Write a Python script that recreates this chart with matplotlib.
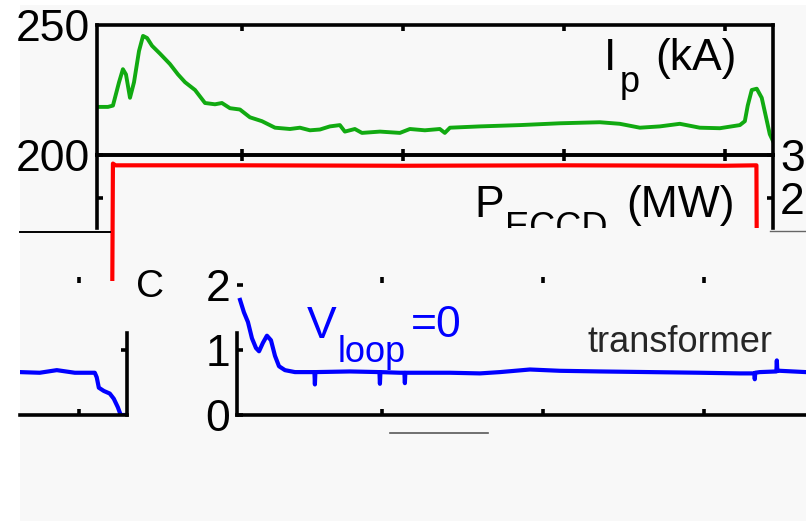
import matplotlib
matplotlib.use("Agg")
import matplotlib.pyplot as plt
from matplotlib.lines import Line2D
from matplotlib.patches import Rectangle

W, H = 806, 521
plt.rcParams["font.family"] = ["Liberation Sans", "DejaVu Sans"]

# plasma current Ip (kA)
ip_t = [0.1100, 0.1168, 0.1199, 0.1237, 0.1261, 0.1280, 0.1305, 0.1330, 0.1361, 0.1386,
        0.1411, 0.1442, 0.1491, 0.1553, 0.1603, 0.1647, 0.1709, 0.1771, 0.1833, 0.1876,
        0.1926, 0.1988, 0.2050, 0.2125, 0.2206, 0.2299, 0.2361, 0.2423, 0.2485, 0.2547,
        0.2609, 0.2640, 0.2702, 0.2746, 0.2858, 0.2982, 0.3044, 0.3137, 0.3230, 0.3261,
        0.3293, 0.3479, 0.3727, 0.3976, 0.4224, 0.4348, 0.4473, 0.4597, 0.4721, 0.4845,
        0.4970, 0.5094, 0.5125, 0.5143, 0.5168, 0.5199, 0.5230, 0.5255, 0.5280, 0.5299]
ip_ka = [218.5, 218.5, 219.0, 228.0, 233.0, 231.0, 222.0, 228.0, 240.0, 245.8,
         245.0, 242.0, 239.0, 235.0, 231.0, 228.0, 225.0, 220.0, 219.5, 220.0,
         218.0, 217.5, 214.5, 213.0, 210.5, 210.0, 210.5, 209.5, 209.8, 211.0,
         211.5, 209.0, 210.0, 208.5, 209.0, 208.5, 210.0, 209.5, 210.0, 208.5,
         210.5, 211.0, 211.5, 212.2, 212.6, 212.0, 210.5, 211.0, 212.0, 210.5,
         210.3, 211.5, 213.0, 219.0, 225.0, 225.5, 222.0, 215.0, 208.0, 205.5]

# ECCD power (MW)
eccd_t = [0.1100, 0.1195, 0.1199, 0.1215, 0.2000, 0.3000, 0.4000, 0.5000, 0.5197, 0.5200, 0.5300]
eccd_mw = [0.0, 0.0, 2.80, 2.76, 2.76, 2.75, 2.76, 2.75, 2.76, 0.0, 0.0]

# loop voltage (V)
vl_t = [0.1119, 0.1143, 0.1168, 0.1193, 0.1218, 0.1237, 0.1261, 0.1286, 0.1311, 0.1336,
        0.1361, 0.1398, 0.1460, 0.1491, 0.1581, 0.1584, 0.1587, 0.1802, 0.1985, 0.1988,
        0.1991, 0.2112, 0.2140, 0.2143, 0.2146, 0.2423, 0.2609, 0.2734, 0.2920, 0.3106,
        0.3355, 0.3665, 0.3976, 0.4224, 0.4314, 0.4317, 0.4320, 0.4348, 0.4451, 0.4454,
        0.4457, 0.4473, 0.4634, 0.4758, 0.4864, 0.4976, 0.5100, 0.5112, 0.5125, 0.5156,
        0.5193, 0.5218, 0.5243, 0.5261, 0.5299]
vl_v = [1.77, 1.58, 1.43, 1.18, 1.03, 0.98, 1.11, 1.22, 1.15, 0.91,
        0.75, 0.69, 0.66, 0.66, 0.66, 0.47, 0.66, 0.67, 0.66, 0.48,
        0.66, 0.65, 0.65, 0.49, 0.65, 0.65, 0.64, 0.66, 0.70, 0.68,
        0.67, 0.66, 0.65, 0.64, 0.64, 0.55, 0.65, 0.66, 0.67, 0.84,
        0.68, 0.68, 0.66, 0.65, 0.69, 0.65, 0.65, 0.58, 0.42, 0.37,
        0.33, 0.25, 0.12, 0.0, 0.0]

t_lim = (0.11, 0.53)
t_ticks = [0.2, 0.3, 0.4, 0.5]
LW, TL, FS, FSUB = 2.6, 4.5, 32, 26
BG = "#f8f8f8"
V_TOP = 138 / 65  # bottom panel: 65 px per volt, top edge above the "2"


def rect(x0, y0, x1, y1):
    return [x0 / W, 1 - y1 / H, (x1 - x0) / W, (y1 - y0) / H]


def style(ax):
    ax.set_facecolor("none")
    for s in ax.spines.values():
        s.set_linewidth(LW)
    ax.tick_params(direction="in", length=TL, width=LW, labelsize=FS, pad=5)
    ax.set_xticklabels([])


def txt(x, y, s, size=FS, ax=None, **kw):
    if ax is None:
        return fig.text(x / W, 1 - y / H, s, fontsize=size, va="baseline", ha="left", **kw)
    t = ax.text(x / W, 1 - y / H, s, fontsize=size, va="baseline", ha="left",
                transform=fig.transFigure, clip_on=True, **kw)
    t.set_clip_box(ax.bbox)
    return t


fig = plt.figure(figsize=(W / 100, H / 100), dpi=100)
fig.patch.set_facecolor("white")
fig.add_artist(Rectangle((20 / W, 0), 1 - 20 / W, 1 - 5 / H, transform=fig.transFigure,
                         facecolor=BG, edgecolor="none", zorder=-10))

# top: Ip
ax1 = fig.add_axes(rect(97, 25, 773, 155))
ax1.plot(ip_t, ip_ka, color="#11aa11", lw=2.8)
ax1.set_xticks(t_ticks); ax1.set_yticks([200, 250])
ax1.set_xlim(t_lim); ax1.set_ylim(200, 250)
style(ax1)
ax1.tick_params(top=True, bottom=True, left=False)

# middle: P_ECCD (upper part and the lower left remnant)
ax2 = fig.add_axes(rect(97, 155, 773, 228))
ax2.plot(eccd_t, eccd_mw, color="red", lw=3.0)
ax2.set_xticks(t_ticks); ax2.set_yticks([2, 3])
ax2.set_xlim(t_lim); ax2.set_ylim(3 - 73 / 43, 3)
style(ax2)
ax2.spines["bottom"].set_visible(False)
ax2.tick_params(top=True, bottom=False, left=True, right=True, labelleft=False, labelright=True)

ax2b = fig.add_axes(rect(97, 228, 330, 281))
ax2b.plot(eccd_t, eccd_mw, color="red", lw=3.0)
ax2b.set_xlim(t_lim[0], t_lim[0] + 233 / 1610); ax2b.set_ylim(3 / 43, 3 - 73 / 43)
ax2b.axis("off")

# bottom: Vloop, drawn shifted and wrapped at the right edge
ax3 = fig.add_axes(rect(237, 277, 913, 415))
ax3.plot(vl_t, vl_v, color="blue", lw=3.0)
ax3.set_xticks(t_ticks); ax3.set_yticks([0, 1, 2])
ax3.set_xlim(t_lim); ax3.set_ylim(0, V_TOP)
style(ax3)
ax3.spines["top"].set_visible(False); ax3.spines["right"].set_visible(False)
ax3.spines["left"].set_bounds(0, 82 / 65)
ax3.tick_params(top=True, bottom=True, left=True)

ax3b = fig.add_axes(rect(20, 277, 127, 415))
ax3b.plot(vl_t, vl_v, color="blue", lw=3.0)
ax3b.set_xticks(t_ticks); ax3b.set_yticks([1])
ax3b.set_xlim(t_lim[1] - 107 / 1610, t_lim[1]); ax3b.set_ylim(0, V_TOP)
style(ax3b)
ax3b.spines["top"].set_visible(False); ax3b.spines["left"].set_visible(False)
ax3b.spines["right"].set_bounds(0, 82 / 65)
ax3b.tick_params(top=True, bottom=True, left=False, right=True, labelleft=False)

# labels
txt(604, 70, "I")
txt(620, 92, "p", size=FSUB)
txt(655, 70, "(kA)")
txt(474, 217, "P")
txt(505, 238, "ECCD", size=FSUB, ax=ax2)
txt(626, 217, "(MW)")
txt(307, 338, "V", color="blue")
txt(338, 362, "loop", size=FSUB, color="blue")
txt(411, 337, "=0", color="blue")
txt(587, 352, "transformer", size=FSUB, color="0.15")
txt(136, 297, "C", size=28)

# stray rules in the scan
for x0, x1, y, c, w in [(20, 110, 232, "black", 1.4), (770, 806, 231, "0.4", 1.0),
                        (390, 488, 433, "0.35", 1.2)]:
    fig.add_artist(Line2D([x0 / W, x1 / W], [1 - y / H, 1 - y / H], color=c, lw=w,
                          transform=fig.transFigure))

fig.savefig("out.png", dpi=100, facecolor=fig.get_facecolor())
